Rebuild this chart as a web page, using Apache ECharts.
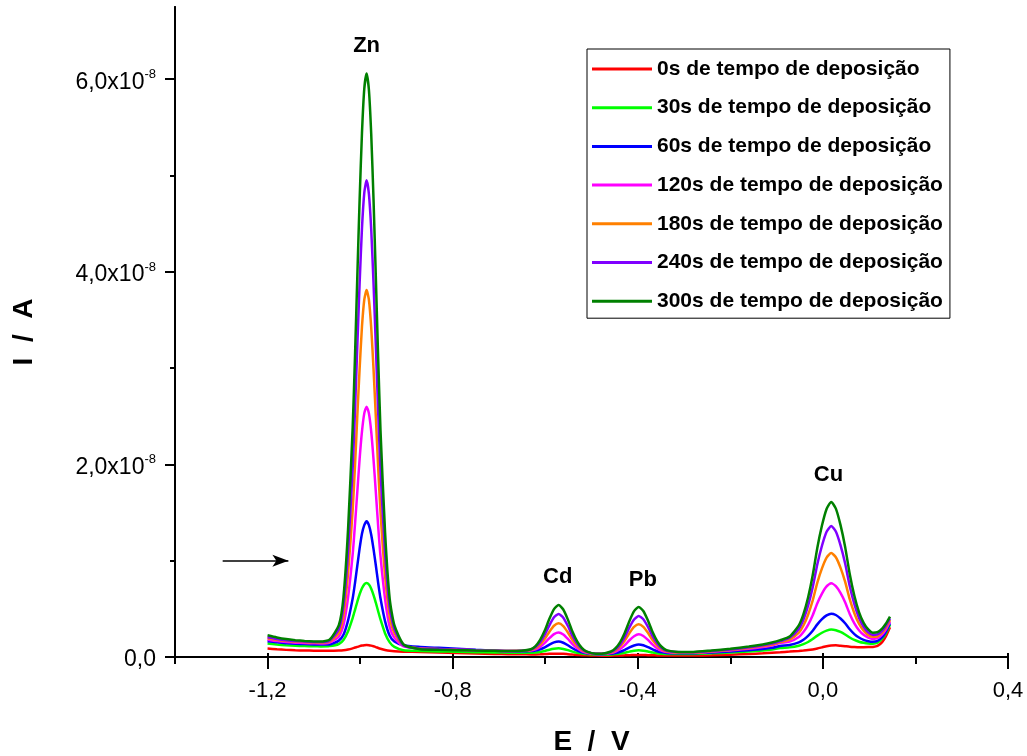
<!DOCTYPE html>
<html><head><meta charset="utf-8">
<script src="https://cdn.jsdelivr.net/npm/echarts@6/dist/echarts.min.js"></script>
<style>html,body{margin:0;padding:0;background:#fff}#c{width:1027px;height:756px}</style>
</head><body><div id="c"></div>
<script>
// Potential (V)
const potentialE = [
-1.2,-1.18,-1.16,-1.14,-1.12,-1.1,-1.085,
-1.066,-1.046,-1.036,-1.026,-1.016,-1.011,-1.006,-1.001,-0.996,-0.991,-0.986,-0.981,-0.976,-0.971,-0.966,-0.961,-0.956,-0.946,-0.936,-0.926,-0.906,
-0.87,-0.83,-0.79,-0.75,-0.71,-0.68,
-0.651,-0.631,-0.621,-0.611,-0.601,-0.591,-0.581,-0.571,-0.561,-0.551,-0.541,-0.531,-0.521,-0.511,-0.491,
-0.478,-0.458,-0.448,-0.438,-0.428,-0.418,-0.408,-0.398,-0.388,-0.378,-0.368,-0.358,-0.348,-0.338,-0.318,
-0.28,-0.24,-0.2,-0.16,-0.13,-0.11,
-0.092,-0.072,-0.052,-0.042,-0.032,-0.022,-0.012,-0.002,0.008,0.018,0.028,0.038,0.048,0.058,0.068,0.078,0.088,0.098,0.108,0.118,0.128,0.136,0.145];

// Current in units of 1e-8 A
const i0s = [
0.088,0.08,0.074,0.07,0.067,0.066,0.065,
0.065,0.067,0.07,0.078,0.09,0.098,0.105,0.113,0.119,0.123,0.125,0.123,0.118,0.111,0.103,0.094,0.086,0.073,0.064,0.059,0.055,
0.052,0.047,0.042,0.037,0.032,0.029,
0.028,0.027,0.027,0.028,0.03,0.033,0.035,0.035,0.033,0.029,0.025,0.022,0.019,0.017,0.015,
0.014,0.014,0.015,0.016,0.017,0.019,0.021,0.022,0.021,0.019,0.018,0.016,0.015,0.015,0.015,
0.015,0.018,0.024,0.031,0.038,0.045,
0.05,0.056,0.063,0.067,0.072,0.079,0.088,0.1,0.112,0.12,0.121,0.117,0.112,0.107,0.104,0.102,0.102,0.103,0.105,0.115,0.155,0.215,0.31];
const i30s = [
0.14,0.13,0.122,0.117,0.113,0.111,0.11,
0.113,0.135,0.177,0.268,0.407,0.49,0.574,0.652,0.714,0.755,0.768,0.752,0.709,0.643,0.563,0.475,0.39,0.245,0.152,0.105,0.07,
0.063,0.058,0.054,0.05,0.047,0.045,
0.045,0.045,0.047,0.053,0.063,0.076,0.086,0.09,0.083,0.071,0.056,0.044,0.036,0.03,0.026,
0.024,0.027,0.03,0.037,0.045,0.056,0.066,0.07,0.066,0.058,0.047,0.04,0.034,0.031,0.03,
0.031,0.038,0.047,0.058,0.068,0.078,
0.093,0.1,0.117,0.134,0.156,0.186,0.222,0.252,0.274,0.285,0.278,0.26,0.234,0.203,0.177,0.159,0.147,0.14,0.138,0.148,0.19,0.245,0.335];
const i60s = [
0.163,0.152,0.144,0.138,0.134,0.131,0.13,
0.13,0.17,0.23,0.38,0.61,0.77,0.95,1.13,1.28,1.37,1.41,1.37,1.27,1.12,0.95,0.77,0.61,0.37,0.22,0.16,0.12,
0.105,0.095,0.085,0.075,0.066,0.06,
0.059,0.061,0.067,0.08,0.101,0.129,0.152,0.16,0.148,0.122,0.091,0.066,0.049,0.04,0.031,
0.029,0.034,0.042,0.055,0.075,0.1,0.12,0.13,0.122,0.102,0.079,0.06,0.048,0.042,0.039,
0.04,0.048,0.058,0.071,0.083,0.095,
0.115,0.125,0.152,0.18,0.22,0.273,0.339,0.393,0.432,0.45,0.436,0.4,0.35,0.288,0.238,0.202,0.178,0.164,0.158,0.167,0.205,0.26,0.35];
const i120s = [
0.18,0.166,0.156,0.149,0.145,0.142,0.14,
0.15,0.21,0.33,0.62,1.07,1.38,1.72,2.06,2.34,2.53,2.6,2.53,2.34,2.05,1.71,1.36,1.05,0.6,0.31,0.2,0.11,
0.088,0.081,0.075,0.07,0.065,0.062,
0.062,0.067,0.079,0.105,0.146,0.196,0.238,0.255,0.234,0.188,0.134,0.09,0.061,0.045,0.032,
0.032,0.041,0.056,0.083,0.124,0.174,0.216,0.235,0.218,0.177,0.128,0.089,0.064,0.051,0.044,
0.043,0.055,0.068,0.086,0.104,0.12,
0.144,0.159,0.208,0.259,0.334,0.434,0.559,0.658,0.733,0.765,0.736,0.665,0.568,0.447,0.35,0.278,0.23,0.202,0.188,0.195,0.232,0.285,0.37];
const i180s = [
0.195,0.18,0.168,0.16,0.155,0.152,0.15,
0.16,0.25,0.43,0.87,1.53,1.99,2.51,3.0,3.43,3.71,3.81,3.71,3.42,2.99,2.49,1.97,1.51,0.84,0.42,0.25,0.12,
0.088,0.082,0.076,0.071,0.066,0.063,
0.064,0.072,0.092,0.129,0.188,0.263,0.325,0.35,0.321,0.255,0.177,0.114,0.073,0.049,0.033,
0.033,0.047,0.069,0.11,0.171,0.248,0.312,0.34,0.313,0.251,0.176,0.117,0.078,0.058,0.048,
0.046,0.059,0.073,0.093,0.113,0.13,
0.155,0.18,0.252,0.327,0.439,0.587,0.773,0.921,1.033,1.08,1.036,0.928,0.782,0.6,0.455,0.346,0.274,0.23,0.209,0.215,0.252,0.305,0.385];
const i240s = [
0.205,0.188,0.175,0.166,0.16,0.157,0.155,
0.17,0.29,0.53,1.1,1.97,2.57,3.24,3.89,4.45,4.82,4.95,4.81,4.44,3.88,3.23,2.55,1.94,1.07,0.51,0.29,0.12,
0.085,0.08,0.075,0.07,0.066,0.063,
0.065,0.077,0.103,0.153,0.231,0.329,0.412,0.446,0.408,0.322,0.22,0.138,0.084,0.054,0.034,
0.034,0.051,0.079,0.131,0.209,0.307,0.389,0.425,0.392,0.312,0.216,0.14,0.09,0.064,0.051,
0.049,0.063,0.078,0.1,0.122,0.14,
0.165,0.2,0.292,0.389,0.532,0.724,0.964,1.155,1.3,1.36,1.303,1.162,0.973,0.737,0.548,0.408,0.314,0.256,0.229,0.235,0.272,0.325,0.4];
const i300s = [
0.225,0.203,0.186,0.175,0.167,0.162,0.16,
0.18,0.33,0.62,1.33,2.39,3.13,3.96,4.76,5.44,5.9,6.06,5.89,5.43,4.75,3.94,3.11,2.36,1.29,0.6,0.33,0.13,
0.08,0.075,0.071,0.067,0.064,0.062,
0.065,0.081,0.113,0.177,0.274,0.396,0.497,0.54,0.493,0.388,0.262,0.162,0.095,0.059,0.035,
0.035,0.057,0.092,0.155,0.252,0.374,0.476,0.52,0.478,0.379,0.26,0.165,0.104,0.072,0.055,
0.052,0.068,0.085,0.108,0.13,0.15,
0.175,0.212,0.329,0.445,0.618,0.848,1.135,1.365,1.537,1.61,1.541,1.372,1.146,0.863,0.636,0.467,0.355,0.286,0.252,0.258,0.295,0.345,0.42];

const seriesNames = ['0s de tempo de deposição','30s de tempo de deposição','60s de tempo de deposição','120s de tempo de deposição','180s de tempo de deposição','240s de tempo de deposição','300s de tempo de deposição'];
const seriesColors = ['#ff0000','#00ff00','#0000ff','#ff00ff','#ff8000','#8000ff','#008000'];
const seriesValues = [i0s,i30s,i60s,i120s,i180s,i240s,i300s];

const xMajorTicks = [-1.2,-0.8,-0.4,0,0.4];
const xMinorTicks = [-1.4,-1.0,-0.6,-0.2,0.2];
const yMajorTicks = [0,2,4,6];
const yMinorTicks = [1,3,5];

const peakNames = ['Zn','Cd','Pb','Cu'];
const peakLabelE = [-0.986,-0.573,-0.389,0.012];
const peakLabelI = [6.37,0.85,0.82,1.91];
const arrowE = [-1.297,-1.155];
const arrowI = [1.0,1.0];

const FONT = 'Liberation Sans, Arial, sans-serif';
const black = '#000';
const fmtX = v => v.toFixed(1).replace('.', ',');
const fmtY = v => v === 0 ? '{m|0,0}' : '{m|' + v.toFixed(1).replace('.', ',') + 'x10}{s|-8}';

const chart = echarts.init(document.getElementById('c'), null, {renderer: 'canvas'});

const baseX = {type: 'value', min: -1.4, max: 0.4, position: 'bottom', splitLine: {show: false},
  axisLine: {show: true, onZero: false, lineStyle: {color: black, width: 2}}};
const baseY = {type: 'value', min: 0, max: 6.75, position: 'left', splitLine: {show: false},
  axisLine: {show: true, onZero: false, lineStyle: {color: black, width: 2}}};

const series = seriesNames.map((name, k) => ({
  type: 'line', name: name,
  data: potentialE.map((e, i) => [e, seriesValues[k][i]]),
  showSymbol: false, symbol: 'none', smooth: 0.2,
  lineStyle: {color: seriesColors[k], width: 2.5},
  itemStyle: {color: seriesColors[k]},
  xAxisIndex: 0, yAxisIndex: 0
}));

series.push({
  type: 'scatter', name: 'annotations', silent: true,
  xAxisIndex: 0, yAxisIndex: 0,
  data: peakNames.map((n, i) => ({name: n, value: [peakLabelE[i], peakLabelI[i]]})),
  symbol: 'circle', symbolSize: 1, itemStyle: {color: 'rgba(0,0,0,0)'},
  label: {show: true, position: 'inside', offset: [0, 2], formatter: p => p.name, fontSize: 22, fontWeight: 'bold',
    color: black, textBorderWidth: 0, opacity: 1, fontFamily: FONT},
  markLine: {
    silent: true, animation: false,
    symbol: ['none', 'arrow'], symbolSize: [9, 16],
    lineStyle: {color: black, width: 1.5, type: 'solid'},
    label: {show: false},
    data: [[{coord: [arrowE[0], arrowI[0]]}, {coord: [arrowE[1], arrowI[1]]}]]
  }
});

chart.setOption({
  animation: false,
  backgroundColor: '#fff',
  textStyle: {fontFamily: FONT},
  grid: {left: 175, right: 19, top: 7, bottom: 99, containLabel: false, outerBoundsMode: 'none'},
  legend: {
    data: seriesNames, orient: 'vertical', left: 587, top: 49,
    padding: [8, 7, 5, 5], itemGap: 14.7, itemWidth: 60, itemHeight: 3, icon: 'rect',
    borderColor: black, borderWidth: 1, selectedMode: false,
    textStyle: {fontSize: 21, fontWeight: 'bold', color: black, lineHeight: 24, fontFamily: FONT}
  },
  xAxis: [
    Object.assign({}, baseX, {
      axisTick: {show: true, customValues: xMajorTicks, length: 12, lineStyle: {color: black, width: 2}},
      axisLabel: {customValues: xMajorTicks, formatter: fmtX, fontSize: 22, color: black, margin: 23, fontFamily: FONT},
      name: 'E  /  V', nameLocation: 'middle', nameGap: 71,
      nameTextStyle: {fontSize: 28, fontWeight: 'bold', color: black, fontFamily: FONT}
    }),
    Object.assign({}, baseX, {
      axisTick: {show: true, customValues: xMinorTicks, length: 7, lineStyle: {color: black, width: 2}},
      axisLabel: {show: false}
    }),
    Object.assign({}, baseX, {
      axisTick: {show: true, inside: true, customValues: xMajorTicks, length: 4, lineStyle: {color: black, width: 2}},
      axisLabel: {show: false}
    })
  ],
  yAxis: [
    Object.assign({}, baseY, {
      axisTick: {show: true, customValues: yMajorTicks, length: 10, lineStyle: {color: black, width: 2}},
      axisLabel: {customValues: yMajorTicks, formatter: fmtY, margin: 19, color: black, padding: [6, 0, 0, 0],
        rich: {
          m: {fontSize: 23, lineHeight: 28, color: black, fontFamily: FONT},
          s: {fontSize: 13, lineHeight: 13, verticalAlign: 'top', color: black, fontFamily: FONT}
        }},
      name: 'I  /  A', nameLocation: 'middle', nameGap: 137, nameRotate: 90,
      nameTextStyle: {fontSize: 28, fontWeight: 'bold', color: black, fontFamily: FONT}
    }),
    Object.assign({}, baseY, {
      axisTick: {show: true, customValues: yMinorTicks, length: 5, lineStyle: {color: black, width: 2}},
      axisLabel: {show: false}
    })
  ],
  series: series
});
</script></body></html>
